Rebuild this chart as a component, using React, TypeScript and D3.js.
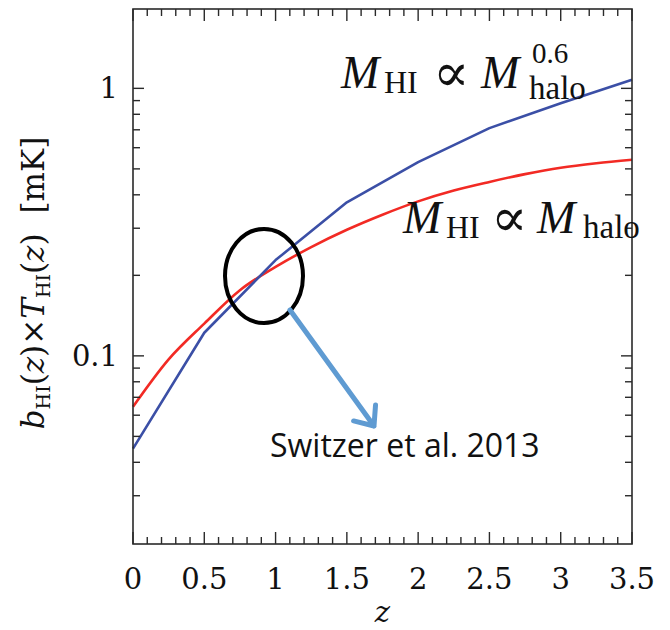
import * as d3 from "d3";

// blue: M_HI ∝ M_halo^0.6 , red: M_HI ∝ M_halo
const zBlue = [0, 0.5, 1, 1.5, 2, 2.5, 3, 3.5];
const blueVals = [0.045, 0.122, 0.228, 0.375, 0.53, 0.71, 0.88, 1.076];

const zRed = [0, 0.25, 0.5, 0.75, 1, 1.25, 1.5, 1.75, 2, 2.25, 2.5, 2.75, 3, 3.25, 3.5];
const redVals = [0.0645, 0.097, 0.132, 0.176, 0.215, 0.255, 0.296, 0.337, 0.378, 0.415, 0.447, 0.478, 0.505, 0.525, 0.541];

const xTickLabels = ["0", "0.5", "1", "1.5", "2", "2.5", "3", "3.5"];
const yTickLabels = ["0.1", "1"];

const W = 670;
const H = 630;
const left = 133, right = 632, top = 9, bottom = 544;

export default function App() {
  const x = d3.scaleLinear().domain([0, 3.5]).range([left, right]);
  const y = d3.scaleLog().domain([0.0198, 1.98]).range([bottom, top]);

  const line = d3.line<[number, number]>()
    .x(d => x(d[0]))
    .y(d => y(d[1]));
  const smooth = d3.line<[number, number]>()
    .x(d => x(d[0]))
    .y(d => y(d[1]))
    .curve(d3.curveMonotoneX);

  const bluePts = zBlue.map((z, i) => [z, blueVals[i]] as [number, number]);
  const redPts = zRed.map((z, i) => [z, redVals[i]] as [number, number]);

  // x ticks every 0.1, major every 0.5
  const xTicks = d3.range(0, 36).map(i => i / 10);
  // log minor ticks
  const yTicks: { v: number; major: boolean }[] = [];
  [0.01, 0.1, 1].forEach(dec => {
    for (let m = 1; m <= 9; m++) {
      const v = dec * m;
      if (v > 0.0205 && v < 1.97) yTicks.push({ v, major: m === 1 });
    }
  });

  const axisColor = "#2a2a2a";
  const tickFont = "'DejaVu Serif', serif";
  const mathFont = "'Liberation Serif', 'DejaVu Serif', serif";
  const propFont = "'DejaVu Serif', serif";

  // arrow
  const ax0 = 290, ay0 = 310, ax1 = 374, ay1 = 426;
  const ang = Math.atan2(ay1 - ay0, ax1 - ax0) + Math.PI;
  const wing = 21;
  const w1 = [ax1 + wing * Math.cos(ang + 0.7), ay1 + wing * Math.sin(ang + 0.7)];
  const w2 = [ax1 + wing * Math.cos(ang - 0.7), ay1 + wing * Math.sin(ang - 0.7)];

  return (
    <svg width={W} height={H} style={{ position: "absolute", left: 0, top: 0, background: "#fff" }}>
      <rect x={0} y={0} width={W} height={H} fill="#fff" />

      {/* curves */}
      <path d={smooth(redPts) || ""} fill="none" stroke="#f22a24" strokeWidth={2.6} strokeLinejoin="round" />
      <path d={line(bluePts) || ""} fill="none" stroke="#3b4fa6" strokeWidth={2.6} strokeLinejoin="round" />

      {/* frame */}
      <rect x={left} y={top} width={right - left} height={bottom - top} fill="none" stroke={axisColor} strokeWidth={1.6} />

      {/* x ticks bottom & top */}
      {xTicks.map((t, i) => {
        const major = i % 5 === 0;
        const len = major ? 12 : 7;
        return (
          <g key={"xt" + i} stroke={axisColor} strokeWidth={1.4}>
            <line x1={x(t)} x2={x(t)} y1={bottom} y2={bottom - len} />
            <line x1={x(t)} x2={x(t)} y1={top} y2={top + len} />
          </g>
        );
      })}
      {xTickLabels.map((s, i) => (
        <text key={"xl" + i} x={x(i * 0.5)} y={589} textAnchor="middle" fontFamily={tickFont} fontSize={29} fill="#111">
          {s}
        </text>
      ))}
      <text x={(left + right) / 2} y={622} textAnchor="middle" fontFamily={tickFont} fontStyle="italic" fontSize={29} fill="#111">
        z
      </text>

      {/* y ticks left & right */}
      {yTicks.map((t, i) => {
        const len = t.major ? 11 : 7;
        return (
          <g key={"yt" + i} stroke={axisColor} strokeWidth={1.4}>
            <line x1={left} x2={left + len} y1={y(t.v)} y2={y(t.v)} />
            <line x1={right} x2={right - len} y1={y(t.v)} y2={y(t.v)} />
          </g>
        );
      })}
      {yTickLabels.map(s => (
        <text key={"yl" + s} x={118} y={y(+s) + 10} textAnchor="end" fontFamily={tickFont} fontSize={29} fill="#111">
          {s}
        </text>
      ))}

      {/* y title */}
      <text transform={`translate(44, 283) rotate(-90)`} textAnchor="middle" fontFamily={tickFont} fontSize={31} fill="#111">
        <tspan fontStyle="italic">b</tspan>
        <tspan fontSize={19} dy={6}>HI</tspan>
        <tspan dy={-6}>(</tspan>
        <tspan fontStyle="italic">z</tspan>
        <tspan>)×</tspan>
        <tspan fontStyle="italic">T</tspan>
        <tspan fontSize={19} dy={6}>HI</tspan>
        <tspan dy={-6}>(</tspan>
        <tspan fontStyle="italic">z</tspan>
        <tspan>)</tspan>
        <tspan dx={20}>[mK]</tspan>
      </text>

      {/* curve labels */}
      <g fontFamily={mathFont} fill="#111">
        <text x={341} y={88} fontSize={46} fontStyle="italic">M</text>
        <text x={384} y={93} fontSize={32}>HI</text>
        <text x={433} y={91} fontSize={54} fontFamily={propFont}>∝</text>
        <text x={481} y={88} fontSize={46} fontStyle="italic">M</text>
        <text x={532} y={63} fontSize={29}>0.6</text>
        <text x={529} y={99} fontSize={33}>halo</text>

        <text x={403} y={233} fontSize={46} fontStyle="italic">M</text>
        <text x={446} y={238} fontSize={32}>HI</text>
        <text x={491} y={236} fontSize={54} fontFamily={propFont}>∝</text>
        <text x={537} y={233} fontSize={46} fontStyle="italic">M</text>
        <text x={583} y={238} fontSize={33}>halo</text>
      </g>

      {/* annotation */}
      <ellipse cx={264} cy={276} rx={39} ry={47} fill="none" stroke="#000" strokeWidth={4} />
      <path
        d={`M${ax0},${ay0} L${ax1},${ay1} M${w1[0]},${w1[1]} L${ax1},${ay1} L${w2[0]},${w2[1]}`}
        fill="none"
        stroke="#5f9bd2"
        strokeWidth={5}
        strokeLinecap="round"
        strokeLinejoin="round"
      />
      <text x={270} y={457} fontFamily="'Open Sans', sans-serif" fontSize={32} fill="#111">
        Switzer et al. 2013
      </text>
    </svg>
  );
}
